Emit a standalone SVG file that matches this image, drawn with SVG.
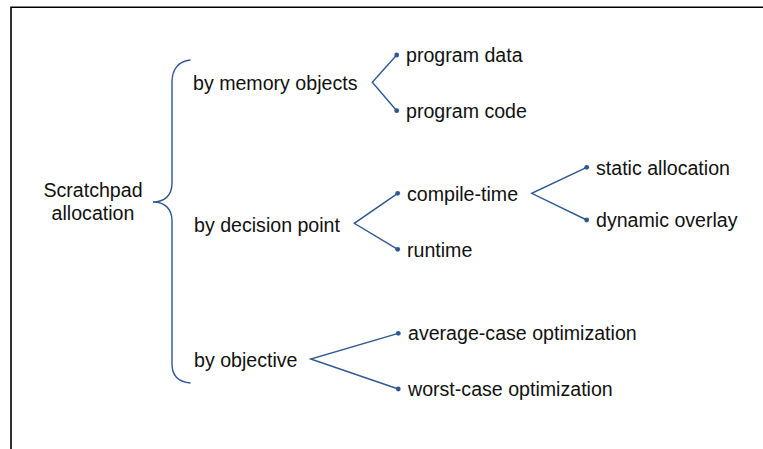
<svg xmlns="http://www.w3.org/2000/svg" width="763" height="449" viewBox="0 0 763 449">
  <style>
    .lbl { font-family: "Liberation Sans", Arial, sans-serif; font-size: 19.6px; fill: #111; }
    .frame { stroke: #000; stroke-width: 1.6; fill: none; }
    .conn { stroke: #2f5892; stroke-width: 1.4; fill: none; }
    .dot { fill: #2f5892; }
  </style>
  <rect width="763" height="449" fill="#fff"/>
  <!-- open frame: top and left edges -->
  <path class="frame" d="M11 449 V7.3 H763"/>

  <!-- root node -->
  <g id="root">
    <text class="lbl" x="93" y="196.7" text-anchor="middle">Scratchpad</text>
    <text class="lbl" x="93" y="220" text-anchor="middle">allocation</text>
  </g>

  <g id="n-memory"><text class="lbl" x="193" y="90">by memory objects</text></g>
  <g id="n-decision"><text class="lbl" x="194" y="232.3">by decision point</text></g>
  <g id="n-objective"><text class="lbl" x="194" y="366.7">by objective</text></g>

  <g id="n-data"><text class="lbl" x="406" y="61.7">program data</text></g>
  <g id="n-code"><text class="lbl" x="406" y="118">program code</text></g>
  <g id="n-compile"><text class="lbl" x="407" y="200.5">compile-time</text></g>
  <g id="n-runtime"><text class="lbl" x="407" y="256.5">runtime</text></g>
  <g id="n-static"><text class="lbl" x="596" y="174.5">static allocation</text></g>
  <g id="n-overlay"><text class="lbl" x="596" y="226.5">dynamic overlay</text></g>
  <g id="n-average"><text class="lbl" x="408" y="340">average-case optimization</text></g>
  <g id="n-worst"><text class="lbl" x="408" y="395.5">worst-case optimization</text></g>

  <g id="connectors">
    <!-- curly brace from the root to the three criteria -->
    <path class="conn" d="M190.5 60 C178 61 172 70 172 82 V183 C172 196 164 202 153 202 C164 202 172 208 172 221 V364 C172 376 178 382 190.5 383"/>
    <!-- forks -->
    <path class="conn" d="M396.7 55 L372.3 82.3 L396.7 110.7"/>
    <path class="conn" d="M397.7 193.3 L354.3 223.3 L397.7 249.3"/>
    <path class="conn" d="M586.7 167.3 L531.7 193.3 L586.7 220"/>
    <path class="conn" d="M398.3 333.3 L310.7 359 L398.3 389"/>
    <circle class="dot" cx="396.7" cy="55" r="2.4"/>
    <circle class="dot" cx="396.7" cy="110.7" r="2.4"/>
    <circle class="dot" cx="397.7" cy="193.3" r="2.4"/>
    <circle class="dot" cx="397.7" cy="249.3" r="2.4"/>
    <circle class="dot" cx="586.7" cy="167.3" r="2.4"/>
    <circle class="dot" cx="586.7" cy="220" r="2.4"/>
    <circle class="dot" cx="398.3" cy="333.3" r="2.4"/>
    <circle class="dot" cx="398.3" cy="389" r="2.4"/>
  </g>
</svg>
